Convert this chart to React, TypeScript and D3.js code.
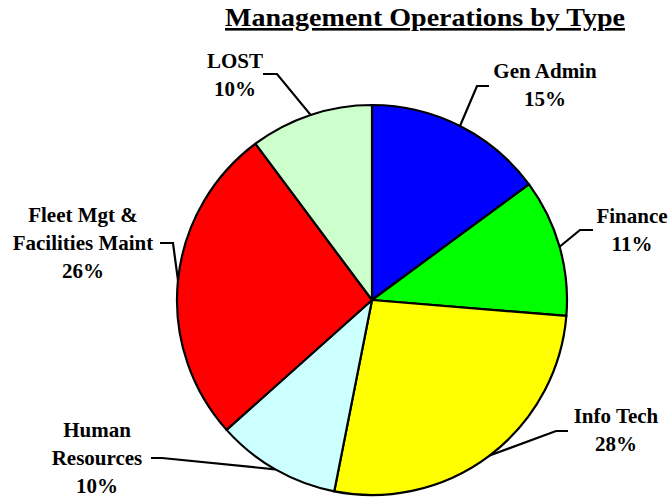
import React from "react";
import * as d3 from "d3";

// slice data, clockwise from 12 o'clock
const categories = ["Gen Admin", "Finance", "Info Tech", "Human Resources", "Fleet Mgt & Facilities Maint", "LOST"];
const values = [14.9, 11.4, 26.8, 10.3, 26.4, 10.2];
const percentLabels = ["15%", "11%", "28%", "10%", "26%", "10%"];
const colors = ["#0000ff", "#00ff00", "#ffff00", "#ccffff", "#ff0000", "#ccffcc"];

// label layout: text lines, centre x, first baseline, elbow and end of the leader
const labelLayout = [
  { lines: ["Gen Admin"], x: 545, y: 78, elbow: [477, 86], end: [489, 86] },
  { lines: ["Finance"], x: 632, y: 223, elbow: [580, 230], end: [593, 230] },
  { lines: ["Info Tech"], x: 616, y: 423, elbow: [556, 431], end: [568, 431] },
  { lines: ["Human", "Resources"], x: 97, y: 437, elbow: [162, 458], end: [151, 458] },
  { lines: ["Fleet Mgt &", "Facilities Maint"], x: 83, y: 222, elbow: [173, 243], end: [160, 243] },
  { lines: ["LOST"], x: 235, y: 68, elbow: [277, 74], end: [263, 74] },
];

const width = 672;
const height = 497;
const cx = 372;
const cy = 300;
const radius = 195;
const lineGap = 28;
const font = "'Liberation Serif', 'Times New Roman', serif";

export default function App() {
  const pie = d3
    .pie<number>()
    .sort(null)
    .startAngle(0)
    .endAngle(2 * Math.PI)
    .value((d) => d);
  const arcs = pie(values);
  const arc = d3.arc<d3.PieArcDatum<number>>().innerRadius(0).outerRadius(radius);

  return (
    <svg
      width={width}
      height={height}
      style={{ position: "absolute", left: 0, top: 0, background: "#fff" }}
    >
      <text
        x={425}
        y={26}
        textAnchor="middle"
        fontFamily={font}
        fontWeight="bold"
        fontSize={26}
        textLength={400}
        lengthAdjust="spacingAndGlyphs"
        textDecoration="underline"
      >
        Management Operations by Type
      </text>

      <g transform={`translate(${cx},${cy})`}>
        {arcs.map((a, i) => (
          <path
            key={categories[i]}
            d={arc(a) || ""}
            fill={colors[i]}
            stroke="#000"
            strokeWidth={2.2}
            strokeLinejoin="round"
          />
        ))}
      </g>

      {arcs.map((a, i) => {
        const lay = labelLayout[i];
        const mid = (a.startAngle + a.endAngle) / 2;
        const sx = cx + radius * Math.sin(mid);
        const sy = cy - radius * Math.cos(mid);
        const pts = [[sx, sy], lay.elbow, lay.end] as [number, number][];
        const line = d3.line()(pts) || "";
        return (
          <g key={"lab" + i}>
            <path d={line} fill="none" stroke="#000" strokeWidth={2.2} />
            <text
              fontFamily={font}
              fontWeight="bold"
              fontSize={21}
              textAnchor="middle"
              fill="#000"
            >
              {lay.lines.map((t, j) => (
                <tspan key={j} x={lay.x} y={lay.y + j * lineGap}>
                  {t}
                </tspan>
              ))}
              <tspan x={lay.x} y={lay.y + lay.lines.length * lineGap}>
                {percentLabels[i]}
              </tspan>
            </text>
          </g>
        );
      })}
    </svg>
  );
}
